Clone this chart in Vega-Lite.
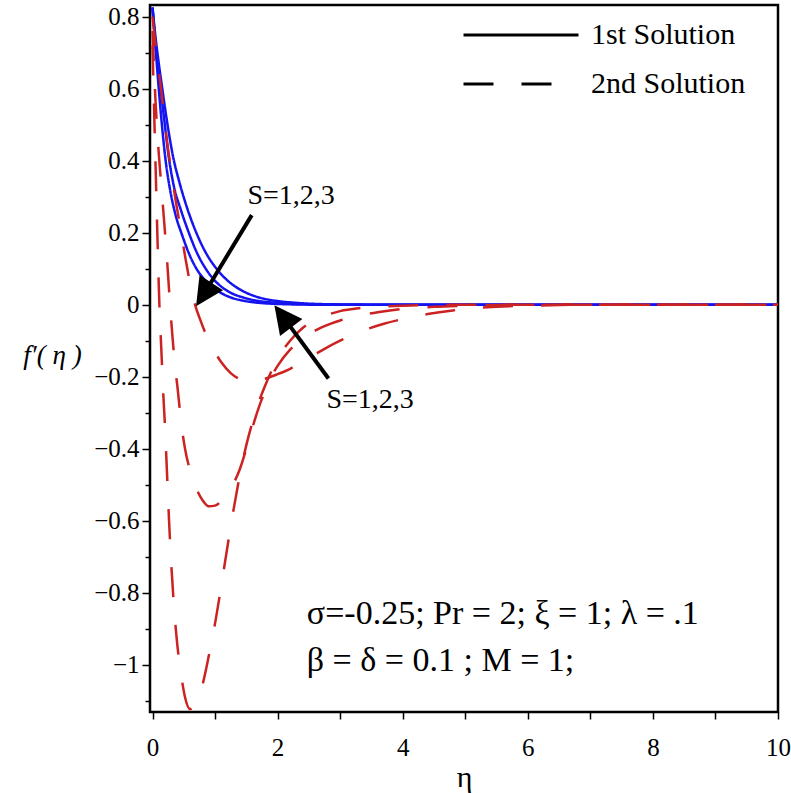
{
  "$schema": "https://vega.github.io/schema/vega-lite/v6.json",
  "width": 628,
  "height": 707,
  "autosize": {"type": "none"},
  "padding": {"left": 150, "top": 5, "right": 13, "bottom": 81},
  "background": "white",
  "config": {
    "view": {"stroke": "black", "strokeWidth": 2.5},
    "font": "Liberation Serif",
    "axis": {"grid": false, "domain": false, "tickColor": "black", "tickWidth": 1.5, "labelColor": "black", "labelFont": "Liberation Serif", "labelFontSize": 25, "titleFont": "Liberation Serif", "titleColor": "black", "titleFontWeight": "normal"},
    "legend": {
      "orient": "none", "legendX": 356, "legendY": 15, "title": null,
      "symbolType": "M-5,0H5", "symbolSize": 529, "symbolStrokeWidth": 3,
      "symbolStrokeColor": "black",
      "labelFont": "Liberation Serif", "labelFontSize": 30, "labelColor": "black",
      "labelOffset": 55, "rowPadding": 19, "padding": 0, "labelLimit": 400
    }
  },
  "datasets": {
    "curves": [
      {"curve": "A", "solution": "1st Solution", "eta": 0, "f": 0.825},
      {"curve": "A", "solution": "1st Solution", "eta": 0.05, "f": 0.71},
      {"curve": "A", "solution": "1st Solution", "eta": 0.1, "f": 0.6},
      {"curve": "A", "solution": "1st Solution", "eta": 0.15, "f": 0.5},
      {"curve": "A", "solution": "1st Solution", "eta": 0.21, "f": 0.4},
      {"curve": "A", "solution": "1st Solution", "eta": 0.28, "f": 0.32},
      {"curve": "A", "solution": "1st Solution", "eta": 0.36, "f": 0.255},
      {"curve": "A", "solution": "1st Solution", "eta": 0.48, "f": 0.19},
      {"curve": "A", "solution": "1st Solution", "eta": 0.6, "f": 0.135},
      {"curve": "A", "solution": "1st Solution", "eta": 0.72, "f": 0.095},
      {"curve": "A", "solution": "1st Solution", "eta": 0.85, "f": 0.066},
      {"curve": "A", "solution": "1st Solution", "eta": 0.95, "f": 0.05},
      {"curve": "A", "solution": "1st Solution", "eta": 1.1, "f": 0.032},
      {"curve": "A", "solution": "1st Solution", "eta": 1.25, "f": 0.02},
      {"curve": "A", "solution": "1st Solution", "eta": 1.45, "f": 0.011},
      {"curve": "A", "solution": "1st Solution", "eta": 1.7, "f": 0.005},
      {"curve": "A", "solution": "1st Solution", "eta": 2.0, "f": 0.002},
      {"curve": "A", "solution": "1st Solution", "eta": 2.3, "f": 0.0005},
      {"curve": "A", "solution": "1st Solution", "eta": 2.6, "f": 0},
      {"curve": "A", "solution": "1st Solution", "eta": 10, "f": 0},
      {"curve": "B", "solution": "1st Solution", "eta": 0, "f": 0.825},
      {"curve": "B", "solution": "1st Solution", "eta": 0.05, "f": 0.72},
      {"curve": "B", "solution": "1st Solution", "eta": 0.13, "f": 0.6},
      {"curve": "B", "solution": "1st Solution", "eta": 0.19, "f": 0.51},
      {"curve": "B", "solution": "1st Solution", "eta": 0.26, "f": 0.41},
      {"curve": "B", "solution": "1st Solution", "eta": 0.34, "f": 0.33},
      {"curve": "B", "solution": "1st Solution", "eta": 0.45, "f": 0.265},
      {"curve": "B", "solution": "1st Solution", "eta": 0.58, "f": 0.2},
      {"curve": "B", "solution": "1st Solution", "eta": 0.7, "f": 0.148},
      {"curve": "B", "solution": "1st Solution", "eta": 0.85, "f": 0.1},
      {"curve": "B", "solution": "1st Solution", "eta": 1.0, "f": 0.066},
      {"curve": "B", "solution": "1st Solution", "eta": 1.1, "f": 0.05},
      {"curve": "B", "solution": "1st Solution", "eta": 1.25, "f": 0.033},
      {"curve": "B", "solution": "1st Solution", "eta": 1.45, "f": 0.02},
      {"curve": "B", "solution": "1st Solution", "eta": 1.7, "f": 0.01},
      {"curve": "B", "solution": "1st Solution", "eta": 2.0, "f": 0.005},
      {"curve": "B", "solution": "1st Solution", "eta": 2.4, "f": 0.0015},
      {"curve": "B", "solution": "1st Solution", "eta": 2.8, "f": 0.0003},
      {"curve": "B", "solution": "1st Solution", "eta": 3.2, "f": 0},
      {"curve": "B", "solution": "1st Solution", "eta": 10, "f": 0},
      {"curve": "C", "solution": "1st Solution", "eta": 0, "f": 0.825},
      {"curve": "C", "solution": "1st Solution", "eta": 0.05, "f": 0.74},
      {"curve": "C", "solution": "1st Solution", "eta": 0.1, "f": 0.67},
      {"curve": "C", "solution": "1st Solution", "eta": 0.16, "f": 0.595},
      {"curve": "C", "solution": "1st Solution", "eta": 0.24, "f": 0.5},
      {"curve": "C", "solution": "1st Solution", "eta": 0.33, "f": 0.41},
      {"curve": "C", "solution": "1st Solution", "eta": 0.43, "f": 0.34},
      {"curve": "C", "solution": "1st Solution", "eta": 0.56, "f": 0.265},
      {"curve": "C", "solution": "1st Solution", "eta": 0.7, "f": 0.2},
      {"curve": "C", "solution": "1st Solution", "eta": 0.85, "f": 0.145},
      {"curve": "C", "solution": "1st Solution", "eta": 1.0, "f": 0.105},
      {"curve": "C", "solution": "1st Solution", "eta": 1.15, "f": 0.075},
      {"curve": "C", "solution": "1st Solution", "eta": 1.3, "f": 0.053},
      {"curve": "C", "solution": "1st Solution", "eta": 1.5, "f": 0.033},
      {"curve": "C", "solution": "1st Solution", "eta": 1.7, "f": 0.02},
      {"curve": "C", "solution": "1st Solution", "eta": 2.0, "f": 0.01},
      {"curve": "C", "solution": "1st Solution", "eta": 2.3, "f": 0.005},
      {"curve": "C", "solution": "1st Solution", "eta": 2.7, "f": 0.0015},
      {"curve": "C", "solution": "1st Solution", "eta": 3.2, "f": 0.0003},
      {"curve": "C", "solution": "1st Solution", "eta": 3.6, "f": 0},
      {"curve": "C", "solution": "1st Solution", "eta": 10, "f": 0},
      {"curve": "R1", "solution": "2nd Solution", "eta": 0, "f": 0.72},
      {"curve": "R1", "solution": "2nd Solution", "eta": 0.02, "f": 0.58},
      {"curve": "R1", "solution": "2nd Solution", "eta": 0.05, "f": 0.38},
      {"curve": "R1", "solution": "2nd Solution", "eta": 0.08, "f": 0.18},
      {"curve": "R1", "solution": "2nd Solution", "eta": 0.11, "f": 0.0},
      {"curve": "R1", "solution": "2nd Solution", "eta": 0.14, "f": -0.12},
      {"curve": "R1", "solution": "2nd Solution", "eta": 0.17, "f": -0.24},
      {"curve": "R1", "solution": "2nd Solution", "eta": 0.2, "f": -0.34},
      {"curve": "R1", "solution": "2nd Solution", "eta": 0.23, "f": -0.46},
      {"curve": "R1", "solution": "2nd Solution", "eta": 0.27, "f": -0.62},
      {"curve": "R1", "solution": "2nd Solution", "eta": 0.3, "f": -0.72},
      {"curve": "R1", "solution": "2nd Solution", "eta": 0.34, "f": -0.83},
      {"curve": "R1", "solution": "2nd Solution", "eta": 0.4, "f": -0.95},
      {"curve": "R1", "solution": "2nd Solution", "eta": 0.46, "f": -1.03},
      {"curve": "R1", "solution": "2nd Solution", "eta": 0.52, "f": -1.09},
      {"curve": "R1", "solution": "2nd Solution", "eta": 0.6, "f": -1.123},
      {"curve": "R1", "solution": "2nd Solution", "eta": 0.68, "f": -1.11},
      {"curve": "R1", "solution": "2nd Solution", "eta": 0.8, "f": -1.055},
      {"curve": "R1", "solution": "2nd Solution", "eta": 0.9, "f": -0.975},
      {"curve": "R1", "solution": "2nd Solution", "eta": 1.0, "f": -0.885},
      {"curve": "R1", "solution": "2nd Solution", "eta": 1.1, "f": -0.78},
      {"curve": "R1", "solution": "2nd Solution", "eta": 1.2, "f": -0.67},
      {"curve": "R1", "solution": "2nd Solution", "eta": 1.3, "f": -0.565},
      {"curve": "R1", "solution": "2nd Solution", "eta": 1.4, "f": -0.47},
      {"curve": "R1", "solution": "2nd Solution", "eta": 1.5, "f": -0.39},
      {"curve": "R1", "solution": "2nd Solution", "eta": 1.6, "f": -0.325},
      {"curve": "R1", "solution": "2nd Solution", "eta": 1.7, "f": -0.27},
      {"curve": "R1", "solution": "2nd Solution", "eta": 1.8, "f": -0.225},
      {"curve": "R1", "solution": "2nd Solution", "eta": 1.9, "f": -0.185},
      {"curve": "R1", "solution": "2nd Solution", "eta": 2.0, "f": -0.15},
      {"curve": "R1", "solution": "2nd Solution", "eta": 2.2, "f": -0.1},
      {"curve": "R1", "solution": "2nd Solution", "eta": 2.4, "f": -0.065},
      {"curve": "R1", "solution": "2nd Solution", "eta": 2.6, "f": -0.042},
      {"curve": "R1", "solution": "2nd Solution", "eta": 2.8, "f": -0.028},
      {"curve": "R1", "solution": "2nd Solution", "eta": 3.0, "f": -0.018},
      {"curve": "R1", "solution": "2nd Solution", "eta": 3.3, "f": -0.01},
      {"curve": "R1", "solution": "2nd Solution", "eta": 3.6, "f": -0.006},
      {"curve": "R1", "solution": "2nd Solution", "eta": 4.0, "f": -0.003},
      {"curve": "R1", "solution": "2nd Solution", "eta": 4.5, "f": -0.001},
      {"curve": "R1", "solution": "2nd Solution", "eta": 5.0, "f": 0},
      {"curve": "R1", "solution": "2nd Solution", "eta": 10, "f": 0},
      {"curve": "R2", "solution": "2nd Solution", "eta": 0, "f": 0.76},
      {"curve": "R2", "solution": "2nd Solution", "eta": 0.05, "f": 0.56},
      {"curve": "R2", "solution": "2nd Solution", "eta": 0.1, "f": 0.42},
      {"curve": "R2", "solution": "2nd Solution", "eta": 0.15, "f": 0.31},
      {"curve": "R2", "solution": "2nd Solution", "eta": 0.2, "f": 0.2},
      {"curve": "R2", "solution": "2nd Solution", "eta": 0.25, "f": 0.08},
      {"curve": "R2", "solution": "2nd Solution", "eta": 0.28, "f": 0.0},
      {"curve": "R2", "solution": "2nd Solution", "eta": 0.32, "f": -0.09},
      {"curve": "R2", "solution": "2nd Solution", "eta": 0.36, "f": -0.17},
      {"curve": "R2", "solution": "2nd Solution", "eta": 0.4, "f": -0.23},
      {"curve": "R2", "solution": "2nd Solution", "eta": 0.46, "f": -0.33},
      {"curve": "R2", "solution": "2nd Solution", "eta": 0.52, "f": -0.4},
      {"curve": "R2", "solution": "2nd Solution", "eta": 0.6, "f": -0.46},
      {"curve": "R2", "solution": "2nd Solution", "eta": 0.7, "f": -0.51},
      {"curve": "R2", "solution": "2nd Solution", "eta": 0.8, "f": -0.543},
      {"curve": "R2", "solution": "2nd Solution", "eta": 0.9, "f": -0.56},
      {"curve": "R2", "solution": "2nd Solution", "eta": 1.0, "f": -0.558},
      {"curve": "R2", "solution": "2nd Solution", "eta": 1.1, "f": -0.545},
      {"curve": "R2", "solution": "2nd Solution", "eta": 1.2, "f": -0.525},
      {"curve": "R2", "solution": "2nd Solution", "eta": 1.3, "f": -0.495},
      {"curve": "R2", "solution": "2nd Solution", "eta": 1.4, "f": -0.455},
      {"curve": "R2", "solution": "2nd Solution", "eta": 1.5, "f": -0.4},
      {"curve": "R2", "solution": "2nd Solution", "eta": 1.6, "f": -0.34},
      {"curve": "R2", "solution": "2nd Solution", "eta": 1.7, "f": -0.285},
      {"curve": "R2", "solution": "2nd Solution", "eta": 1.8, "f": -0.24},
      {"curve": "R2", "solution": "2nd Solution", "eta": 1.9, "f": -0.2},
      {"curve": "R2", "solution": "2nd Solution", "eta": 2.0, "f": -0.17},
      {"curve": "R2", "solution": "2nd Solution", "eta": 2.2, "f": -0.125},
      {"curve": "R2", "solution": "2nd Solution", "eta": 2.4, "f": -0.095},
      {"curve": "R2", "solution": "2nd Solution", "eta": 2.6, "f": -0.072},
      {"curve": "R2", "solution": "2nd Solution", "eta": 2.8, "f": -0.056},
      {"curve": "R2", "solution": "2nd Solution", "eta": 3.0, "f": -0.044},
      {"curve": "R2", "solution": "2nd Solution", "eta": 3.3, "f": -0.031},
      {"curve": "R2", "solution": "2nd Solution", "eta": 3.6, "f": -0.021},
      {"curve": "R2", "solution": "2nd Solution", "eta": 4.0, "f": -0.012},
      {"curve": "R2", "solution": "2nd Solution", "eta": 4.5, "f": -0.006},
      {"curve": "R2", "solution": "2nd Solution", "eta": 5.0, "f": -0.003},
      {"curve": "R2", "solution": "2nd Solution", "eta": 5.5, "f": -0.001},
      {"curve": "R2", "solution": "2nd Solution", "eta": 6.0, "f": 0},
      {"curve": "R2", "solution": "2nd Solution", "eta": 10, "f": 0},
      {"curve": "R3", "solution": "2nd Solution", "eta": 0, "f": 0.8},
      {"curve": "R3", "solution": "2nd Solution", "eta": 0.05, "f": 0.72},
      {"curve": "R3", "solution": "2nd Solution", "eta": 0.1, "f": 0.65},
      {"curve": "R3", "solution": "2nd Solution", "eta": 0.15, "f": 0.58},
      {"curve": "R3", "solution": "2nd Solution", "eta": 0.2, "f": 0.5},
      {"curve": "R3", "solution": "2nd Solution", "eta": 0.25, "f": 0.43},
      {"curve": "R3", "solution": "2nd Solution", "eta": 0.3, "f": 0.37},
      {"curve": "R3", "solution": "2nd Solution", "eta": 0.37, "f": 0.29},
      {"curve": "R3", "solution": "2nd Solution", "eta": 0.45, "f": 0.21},
      {"curve": "R3", "solution": "2nd Solution", "eta": 0.53, "f": 0.125},
      {"curve": "R3", "solution": "2nd Solution", "eta": 0.6, "f": 0.06},
      {"curve": "R3", "solution": "2nd Solution", "eta": 0.68, "f": 0.0},
      {"curve": "R3", "solution": "2nd Solution", "eta": 0.77, "f": -0.045},
      {"curve": "R3", "solution": "2nd Solution", "eta": 0.86, "f": -0.085},
      {"curve": "R3", "solution": "2nd Solution", "eta": 0.96, "f": -0.12},
      {"curve": "R3", "solution": "2nd Solution", "eta": 1.1, "f": -0.16},
      {"curve": "R3", "solution": "2nd Solution", "eta": 1.25, "f": -0.19},
      {"curve": "R3", "solution": "2nd Solution", "eta": 1.4, "f": -0.207},
      {"curve": "R3", "solution": "2nd Solution", "eta": 1.55, "f": -0.213},
      {"curve": "R3", "solution": "2nd Solution", "eta": 1.7, "f": -0.21},
      {"curve": "R3", "solution": "2nd Solution", "eta": 1.85, "f": -0.203},
      {"curve": "R3", "solution": "2nd Solution", "eta": 2.0, "f": -0.193},
      {"curve": "R3", "solution": "2nd Solution", "eta": 2.2, "f": -0.178},
      {"curve": "R3", "solution": "2nd Solution", "eta": 2.4, "f": -0.158},
      {"curve": "R3", "solution": "2nd Solution", "eta": 2.6, "f": -0.138},
      {"curve": "R3", "solution": "2nd Solution", "eta": 2.8, "f": -0.118},
      {"curve": "R3", "solution": "2nd Solution", "eta": 3.0, "f": -0.1},
      {"curve": "R3", "solution": "2nd Solution", "eta": 3.2, "f": -0.085},
      {"curve": "R3", "solution": "2nd Solution", "eta": 3.4, "f": -0.07},
      {"curve": "R3", "solution": "2nd Solution", "eta": 3.7, "f": -0.053},
      {"curve": "R3", "solution": "2nd Solution", "eta": 4.0, "f": -0.04},
      {"curve": "R3", "solution": "2nd Solution", "eta": 4.4, "f": -0.026},
      {"curve": "R3", "solution": "2nd Solution", "eta": 4.8, "f": -0.016},
      {"curve": "R3", "solution": "2nd Solution", "eta": 5.2, "f": -0.009},
      {"curve": "R3", "solution": "2nd Solution", "eta": 5.6, "f": -0.005},
      {"curve": "R3", "solution": "2nd Solution", "eta": 6.0, "f": -0.003},
      {"curve": "R3", "solution": "2nd Solution", "eta": 6.5, "f": -0.001},
      {"curve": "R3", "solution": "2nd Solution", "eta": 7.0, "f": 0},
      {"curve": "R3", "solution": "2nd Solution", "eta": 10, "f": 0}
    ],
    "arrows": [
      {"arrow": "upper", "eta": 1.587, "f": 0.2486, "eta2": 0.818, "f2": 0.0283},
      {"arrow": "lower", "eta": 2.813, "f": -0.205, "eta2": 2.083, "f2": -0.0325}
    ],
    "labels": [
      {"text": "S=1,2,3", "eta": 2.216, "f": 0.3028},
      {"text": "S=1,2,3", "eta": 3.48, "f": -0.265}
    ],
    "notes": [
      {"text": "σ=-0.25; Pr = 2; ξ = 1; λ = .1", "eta": 2.467, "f": -0.8856},
      {"text": "β = δ = 0.1 ; M = 1;", "eta": 2.467, "f": -1.018}
    ]
  },
  "resolve": {"axis": {"y": "independent"}},
  "layer": [
    {
      "data": {"name": "curves"},
      "mark": {"type": "line", "interpolate": "monotone", "strokeWidth": 2.5},
      "encoding": {
        "x": {
          "field": "eta", "type": "quantitative",
          "scale": {"domain": [-0.04, 10], "nice": false, "zero": false},
          "axis": {
            "values": [0, 1, 2, 3, 4, 5, 6, 7, 8, 9, 10],
            "format": "d",
            "labelExpr": "datum.value % 2 === 0 ? datum.label : ''",
            "labelOverlap": false, "labelFlush": false,
            "tickSize": 7, "labelPadding": 16,
            "title": "η", "titleFontSize": 30, "titlePadding": 2
          }
        },
        "y": {
          "field": "f", "type": "quantitative",
          "scale": {"domain": [-1.131, 0.832], "nice": false, "zero": false},
          "axis": {
            "orient": "left",
            "values": [-1, -0.8, -0.6, -0.4, -0.2, 0, 0.2, 0.4, 0.6, 0.8],
            "format": "~g",
            "labelOverlap": false, "labelFlush": false,
            "tickSize": 8,
            "labelPadding": 3,
            "title": "f′( η )", "titleAngle": 0, "titleX": -98, "titleY": 350,
            "titleAlign": "center", "titleBaseline": "middle",
            "titleFontStyle": "italic", "titleFontSize": 27
          }
        },
        "detail": {"field": "curve"},
        "color": {
          "condition": {"test": "datum.solution === '1st Solution'", "value": "#1414f0"},
          "value": "#cc2222"
        },
        "strokeDash": {
          "field": "solution", "type": "nominal",
          "scale": {"domain": ["1st Solution", "2nd Solution"], "range": [[1, 0], [30, 28]]},
          "legend": {"symbolStrokeColor": "black"}
        }
      }
    },
    {
      "data": {"name": "arrows"},
      "mark": {"type": "rule", "color": "black", "strokeWidth": 4},
      "encoding": {
        "x": {"field": "eta", "type": "quantitative"},
        "y": {
          "field": "f", "type": "quantitative",
          "axis": {
            "orient": "left",
            "values": [-1.1, -0.9, -0.7, -0.5, -0.3, -0.1, 0.1, 0.3, 0.5, 0.7],
            "labels": false, "title": null, "tickSize": 5
          }
        },
        "x2": {"field": "eta2"},
        "y2": {"field": "f2"}
      }
    },
    {
      "data": {"name": "arrows"},
      "mark": {"type": "point", "shape": "M0,-1L-1,1L1,1Z", "filled": true, "color": "black", "opacity": 1, "size": 784},
      "encoding": {
        "x": {"field": "eta2", "type": "quantitative"},
        "y": {"field": "f2", "type": "quantitative", "axis": null},
        "angle": {"condition": {"test": "datum.arrow === 'upper'", "value": 213}, "value": 323}
      }
    },
    {
      "data": {"name": "labels"},
      "mark": {"type": "text", "font": "Liberation Serif", "fontSize": 28, "color": "black", "align": "center", "baseline": "middle"},
      "encoding": {
        "x": {"field": "eta", "type": "quantitative"},
        "y": {"field": "f", "type": "quantitative", "axis": null},
        "text": {"field": "text"}
      }
    },
    {
      "data": {"name": "notes"},
      "mark": {"type": "text", "font": "Liberation Serif", "fontSize": 34, "color": "black", "align": "left", "baseline": "alphabetic"},
      "encoding": {
        "x": {"field": "eta", "type": "quantitative"},
        "y": {"field": "f", "type": "quantitative", "axis": null},
        "text": {"field": "text"}
      }
    }
  ]
}
